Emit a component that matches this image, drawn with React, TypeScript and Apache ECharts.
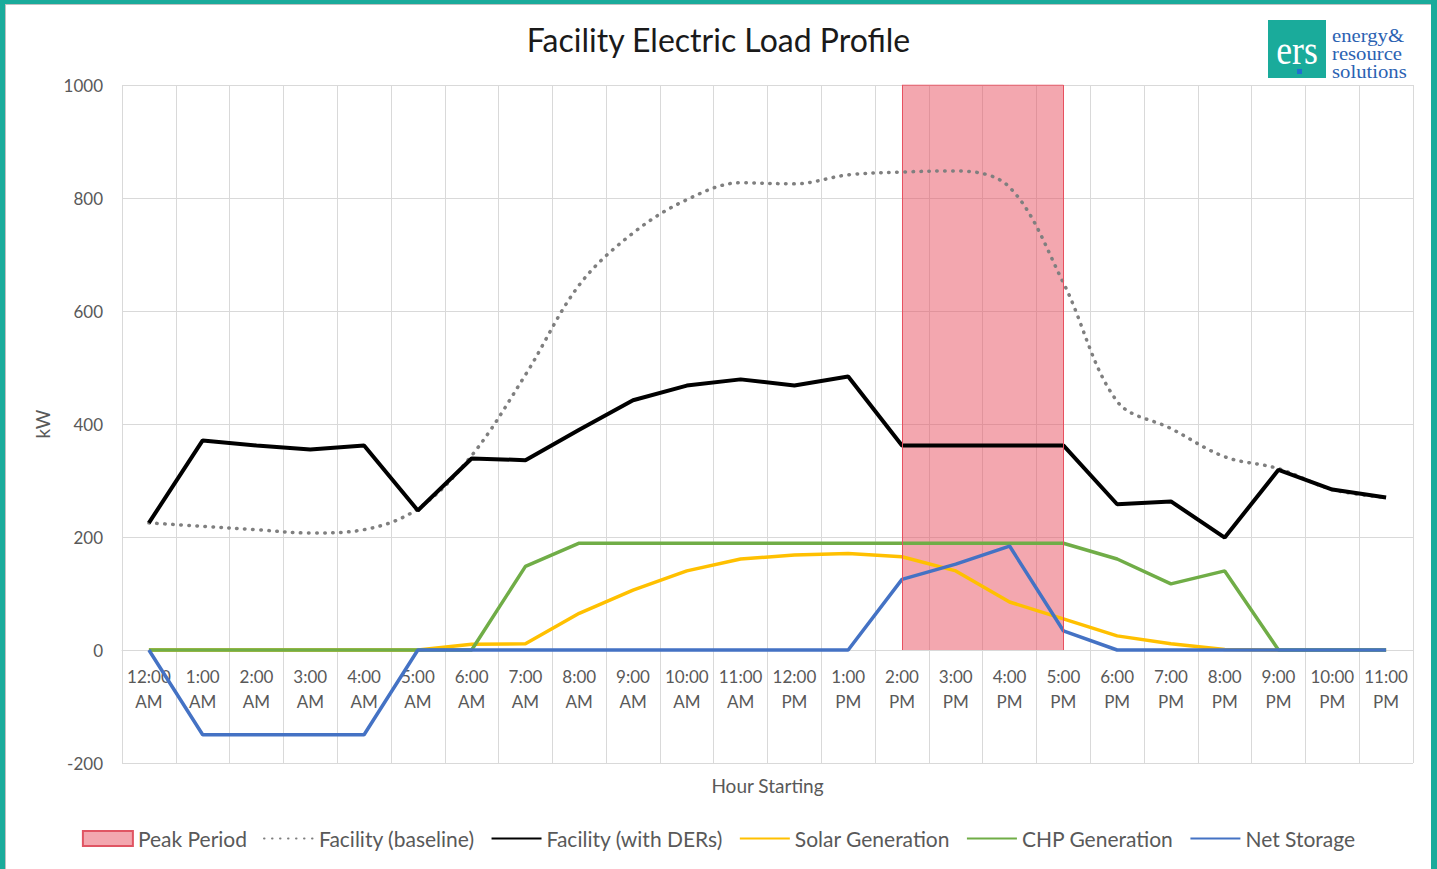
import React, { useEffect, useRef } from "react";
import * as echarts from "echarts";

const hours = [
  "12:00\nAM", "1:00\nAM", "2:00\nAM", "3:00\nAM", "4:00\nAM", "5:00\nAM",
  "6:00\nAM", "7:00\nAM", "8:00\nAM", "9:00\nAM", "10:00\nAM", "11:00\nAM",
  "12:00\nPM", "1:00\nPM", "2:00\nPM", "3:00\nPM", "4:00\nPM", "5:00\nPM",
  "6:00\nPM", "7:00\nPM", "8:00\nPM", "9:00\nPM", "10:00\nPM", "11:00\nPM",
];

const baseline = [225, 219, 213, 207, 213, 250, 344, 487, 646, 738, 797, 827, 825, 841, 846, 848, 819, 650, 440, 392, 342, 321, 284, 270];
const withDERs = [225, 371, 362, 355, 362, 247, 339, 336, 390, 442, 468, 479, 468, 484, 362, 362, 362, 362, 258, 263, 199, 319, 284, 270];
const solar = [0, 0, 0, 0, 0, 0, 10, 11, 65, 106, 140, 161, 168, 171, 165, 140, 85, 55, 25, 11, 1, 0, 0, 0];
const chp = [0, 0, 0, 0, 0, 0, 0, 148, 189, 189, 189, 189, 189, 189, 189, 189, 189, 189, 161, 117, 140, 0, 0, 0];
const netStorage = [0, -150, -150, -150, -150, 0, 0, 0, 0, 0, 0, 0, 0, 0, 125, 152, 184, 34, 0, 0, 0, 0, 0, 0];

// peak period: from the 2:00 PM hour (index 14) to the 5:00 PM hour (index 17), 0 to 1000 kW
const peakStartIndex = 14;
const peakEndIndex = 17;
const peakTop = 1000;

const yMin = -200;
const yMax = 1000;
const yInterval = 200;

export default function App() {
  const ref = useRef<HTMLDivElement>(null);

  useEffect(() => {
    if (!ref.current) return;
    const chart = echarts.init(ref.current, null, { renderer: "svg" });
    const font = "Lato, 'Open Sans', sans-serif";
    const axisColor = "#595959";
    const serif = "'Liberation Serif', 'DejaVu Serif', serif";
    const gridTop = 80;
    const gridBottom = 106;
    const plotHeight = 865 - gridTop - gridBottom;
    // lift the category axis from the bottom of the plot to the zero line
    const zeroOffset = -Math.round(((0 - yMin) / (yMax - yMin)) * plotHeight);
    const peakArea = hours.map((_, i) => (i >= peakStartIndex && i <= peakEndIndex ? peakTop : null));
    const edgeLine = (idx: number) => [
      { coord: [hours[idx], 0] },
      { coord: [hours[idx], peakTop] },
    ];
    const option: any = {
      animation: false,
      backgroundColor: "#ffffff",
      textStyle: { fontFamily: font },
      title: {
        text: "Facility Electric Load Profile",
        left: "center",
        top: 13,
        textStyle: { fontFamily: font, fontSize: 32, fontWeight: "normal", color: "#1a1a1a" },
      },
      grid: { left: 116, right: 18, top: gridTop, bottom: gridBottom, containLabel: false, outerBoundsMode: "none" },
      legend: {
        bottom: 15,
        left: "center",
        itemGap: 16,
        itemWidth: 50,
        itemHeight: 15,
        itemStyle: { opacity: 0 },
        textStyle: { fontSize: 21, color: axisColor, fontFamily: font },
        data: [
          { name: "Peak Period", icon: "rect", itemStyle: { opacity: 1 } },
          { name: "Facility (baseline)" },
          { name: "Facility (with DERs)" },
          { name: "Solar Generation" },
          { name: "CHP Generation" },
          { name: "Net Storage" },
        ],
      },
      xAxis: {
        type: "category",
        data: hours,
        boundaryGap: true,
        offset: zeroOffset,
        axisLine: { onZero: false, lineStyle: { color: "#d9d9d9" } },
        axisTick: { show: false },
        axisLabel: { color: axisColor, fontSize: 17, lineHeight: 25, margin: 14, interval: 0 },
        splitLine: { show: true, lineStyle: { color: "#d9d9d9" } },
        name: "Hour Starting",
        nameLocation: "middle",
        nameGap: 126,
        nameTextStyle: { color: axisColor, fontSize: 19 },
      },
      yAxis: {
        type: "value",
        min: yMin,
        max: yMax,
        interval: yInterval,
        axisLine: { show: false },
        axisTick: { show: false },
        axisLabel: { color: axisColor, fontSize: 17, margin: 19, formatter: (v: number) => String(v) },
        splitLine: { show: true, lineStyle: { color: "#d9d9d9" } },
        name: "kW",
        nameLocation: "middle",
        nameGap: 70,
        nameTextStyle: { color: axisColor, fontSize: 19 },
      },
      series: [
        {
          name: "Peak Period",
          type: "bar",
          data: [],
          itemStyle: { color: "#f3a7af", borderColor: "#e05563", borderWidth: 1 },
          z: 1,
        },
        {
          type: "line",
          data: peakArea,
          symbol: "none",
          connectNulls: false,
          lineStyle: { color: "#e8505f", width: 1 },
          areaStyle: { color: "rgba(232,80,96,0.5)", opacity: 1 },
          markLine: {
            silent: true,
            symbol: "none",
            label: { show: false },
            lineStyle: { color: "#e8505f", width: 1, type: "solid" },
            data: [edgeLine(peakStartIndex), edgeLine(peakEndIndex)],
          },
          z: 1,
        },
        {
          name: "Facility (baseline)",
          type: "line",
          data: baseline,
          smooth: 0.35,
          symbol: "none",
          lineStyle: { color: "#7f7f7f", width: 3.5, type: [0.5, 7.5], cap: "round" },
          itemStyle: { color: "#7f7f7f" },
          z: 3,
        },
        {
          name: "Facility (with DERs)",
          type: "line",
          data: withDERs,
          symbol: "none",
          lineStyle: { color: "#000000", width: 4 },
          itemStyle: { color: "#000000" },
          z: 4,
        },
        {
          name: "Solar Generation",
          type: "line",
          data: solar,
          symbol: "none",
          lineStyle: { color: "#ffc000", width: 3.5 },
          itemStyle: { color: "#ffc000" },
          z: 3,
        },
        {
          name: "CHP Generation",
          type: "line",
          data: chp,
          symbol: "none",
          lineStyle: { color: "#70ad47", width: 3.5 },
          itemStyle: { color: "#70ad47" },
          z: 3,
        },
        {
          name: "Net Storage",
          type: "line",
          data: netStorage,
          symbol: "none",
          lineStyle: { color: "#4472c4", width: 3.5 },
          itemStyle: { color: "#4472c4" },
          z: 4,
        },
      ],
      graphic: [
        {
          type: "group",
          left: 1262,
          top: 15,
          children: [
            { type: "rect", shape: { x: 0, y: 0, width: 58, height: 58 }, style: { fill: "#1aab9b" } },
            {
              type: "text",
              x: 29,
              y: 29,
              scaleX: 0.85,
              style: { text: "ers", fill: "#ffffff", font: `42px ${serif}`, align: "center", verticalAlign: "middle" },
            },
            { type: "rect", shape: { x: 29, y: 49, width: 5, height: 5 }, style: { fill: "#1f6fd0" } },
            {
              type: "text",
              x: 64,
              y: 7,
              scaleX: 1.15,
              style: { text: "energy&", fill: "#2b62b2", font: `18px ${serif}` },
            },
            {
              type: "text",
              x: 64,
              y: 25,
              scaleX: 1.15,
              style: { text: "resource", fill: "#2b62b2", font: `18px ${serif}` },
            },
            {
              type: "text",
              x: 64,
              y: 43,
              scaleX: 1.15,
              style: { text: "solutions", fill: "#2b62b2", font: `18px ${serif}` },
            },
          ],
        },
      ],
    };
    chart.setOption(option);
    return () => chart.dispose();
  }, []);

  return (
    <div
      style={{
        position: "fixed",
        left: 0,
        top: 0,
        width: 1437,
        height: 869,
        boxSizing: "border-box",
        borderLeft: "5px solid #1aab9b",
        borderTop: "4px solid #1aab9b",
        borderRight: "6px solid #1aab9b",
        background: "#fff",
      }}
    >
      <div
        ref={ref}
        style={{
          width: 1426,
          height: 865,
          borderLeft: "1px solid #c0c0c0",
          borderTop: "1px solid #c0c0c0",
          boxSizing: "border-box",
        }}
      />
    </div>
  );
}
